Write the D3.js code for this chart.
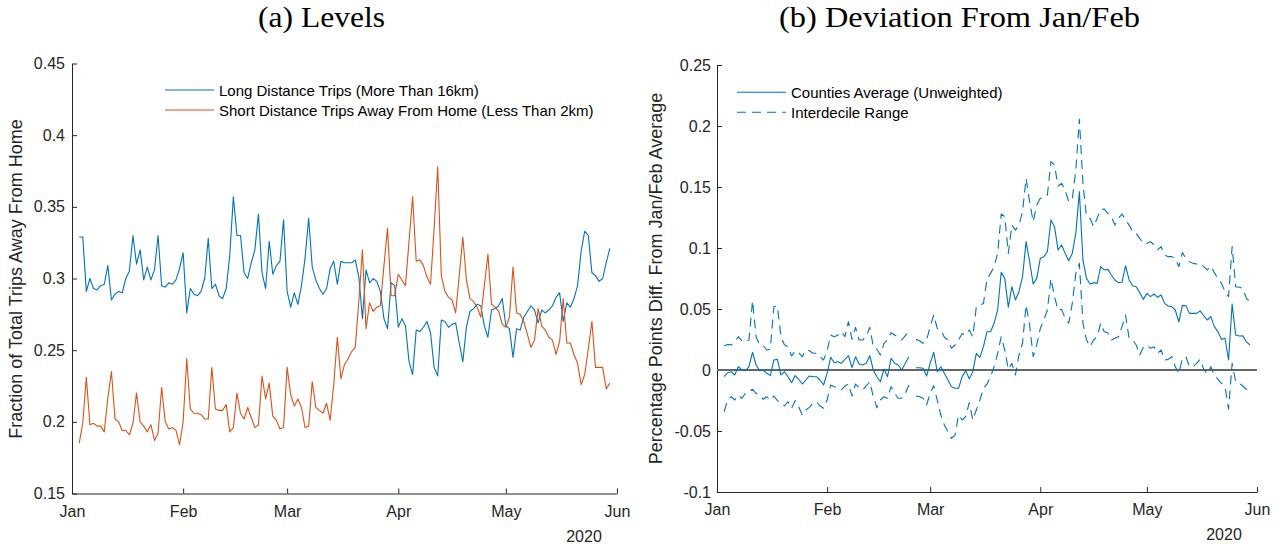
<!DOCTYPE html>
<html><head><meta charset="utf-8">
<script src="https://cdn.jsdelivr.net/npm/d3@7"></script>
<style>body{margin:0;background:#fff} svg{display:block}</style>
</head><body><svg id="c" width="1279" height="544"></svg>
<script>
// ---------- data ----------
const startDate = "2020-01-03";           // first daily observation
const monthTicks = ["Jan","Feb","Mar","Apr","May","Jun"];
const yearLabel = "2020";
const levelTicks = [0.15,0.2,0.25,0.3,0.35,0.4,0.45];
const devTicks = [-0.1,-0.05,0,0.05,0.1,0.15,0.2,0.25];

const longTrips = [
0.329,0.329,0.291,0.300,0.293,0.292,0.295,0.296,0.309,0.285,
0.289,0.291,0.290,0.300,0.305,0.330,0.310,0.320,0.299,0.308,
0.299,0.306,0.330,0.295,0.294,0.297,0.296,0.299,0.307,0.318,
0.276,0.293,0.289,0.288,0.291,0.300,0.328,0.293,0.296,0.288,
0.286,0.293,0.316,0.357,0.330,0.330,0.304,0.300,0.311,0.320,
0.345,0.304,0.293,0.326,0.303,0.309,0.312,0.341,0.291,0.280,
0.290,0.282,0.295,0.314,0.342,0.308,0.299,0.293,0.289,0.293,
0.307,0.312,0.296,0.312,0.311,
0.311,0.311,0.313,0.301,0.272,0.306,0.297,0.300,0.298,0.291,
0.272,0.265,0.297,0.295,0.266,0.272,0.267,0.242,0.233,0.264,
0.263,0.266,0.270,0.262,0.238,0.232,0.271,0.270,0.266,0.268,
0.269,0.255,0.242,0.266,0.277,0.279,0.282,0.281,0.267,0.259,
0.278,0.279,0.281,0.286,0.267,0.265,0.245,0.265,0.264,0.273,
0.277,0.281,0.278,0.269,0.278,0.276,0.278,0.281,0.287,0.290,
0.270,0.283,0.280,0.286,0.295,0.319,0.333,0.330,0.304,0.302,
0.298,0.300,0.311,0.321];

const shortTrips = [
0.185,0.199,0.231,0.198,0.199,0.197,0.197,0.193,0.217,0.235,
0.202,0.200,0.194,0.194,0.191,0.199,0.220,0.200,0.197,0.193,
0.198,0.187,0.192,0.224,0.200,0.195,0.196,0.194,0.184,0.200,
0.244,0.209,0.206,0.206,0.205,0.202,0.202,0.238,0.209,0.208,
0.208,0.212,0.193,0.196,0.220,0.206,0.202,0.210,0.203,0.196,
0.198,0.232,0.216,0.227,0.204,0.201,0.195,0.196,0.238,0.219,
0.211,0.216,0.210,0.196,0.197,0.228,0.210,0.208,0.206,0.213,
0.201,0.226,0.259,0.230,0.240,
0.244,0.249,0.252,0.284,0.320,0.265,0.283,0.277,0.280,0.281,
0.309,0.335,0.288,0.288,0.303,0.299,0.295,0.326,0.357,0.312,
0.313,0.309,0.301,0.296,0.335,0.378,0.302,0.291,0.287,0.285,
0.276,0.302,0.329,0.299,0.286,0.284,0.280,0.273,0.295,0.317,
0.282,0.280,0.277,0.268,0.266,0.273,0.308,0.276,0.275,0.270,
0.261,0.252,0.257,0.279,0.267,0.264,0.259,0.257,0.247,0.256,
0.286,0.255,0.255,0.247,0.241,0.226,0.233,0.251,0.270,0.238,
0.238,0.238,0.223,0.227];

const countyAvg = [
-0.0055,-0.0022,-0.0014,-0.0041,0.0027,0.0000,-0.0005,0.0027,0.0145,0.0041,
-0.0005,0.0000,-0.0027,-0.0046,0.0082,0.0087,-0.0041,-0.0014,-0.0055,-0.0104,
-0.0046,-0.0076,-0.0115,-0.0082,-0.0049,-0.0055,-0.0055,-0.0082,-0.0123,-0.0027,
0.0104,0.0060,0.0068,0.0055,0.0087,0.0117,0.0019,0.0109,0.0049,0.0041,
0.0055,0.0117,0.0000,-0.0055,-0.0096,0.0008,-0.0055,0.0096,0.0055,0.0041,
0.0000,0.0055,0.0109,null,0.0019,0.0019,0.0014,-0.0049,0.0055,0.0145,
-0.0014,0.0027,-0.0027,-0.0082,-0.0137,-0.0150,-0.0150,-0.0055,-0.0005,-0.0071,
-0.0014,0.0137,0.0104,0.0191,0.0314,0.0314,
0.0383,0.0492,0.0801,0.0751,0.0514,0.0683,0.0574,0.0642,0.0765,0.1052,
0.0888,0.0705,0.0751,0.0915,0.0929,0.0970,0.1229,0.1175,0.0984,0.1025,
0.0956,0.0896,0.0956,0.1120,0.1462,0.0902,0.0751,0.0705,0.0716,0.0710,
0.0847,0.0820,0.0825,0.0779,0.0738,0.0716,0.0719,0.0855,0.0738,0.0691,
0.0683,0.0634,0.0579,0.0628,0.0601,0.0623,0.0596,0.0615,0.0546,0.0525,
0.0519,0.0492,0.0393,0.0530,0.0527,0.0464,0.0464,0.0464,0.0484,0.0445,
0.0410,0.0437,0.0355,0.0314,0.0251,0.0260,0.0082,0.0540,0.0287,0.0279,
0.0281,0.0232,0.0205];

const decileHigh = [
0.0197,0.0210,0.0205,0.0232,0.0273,0.0238,0.0232,0.0246,0.0568,0.0273,
0.0205,0.0200,0.0164,0.0170,0.0519,0.0525,0.0273,0.0205,0.0191,0.0115,
0.0158,0.0142,0.0109,0.0164,0.0158,0.0137,0.0137,0.0109,0.0082,0.0158,
0.0287,0.0273,0.0284,0.0314,0.0273,0.0396,0.0251,0.0350,0.0246,0.0246,
0.0273,0.0350,0.0191,0.0170,0.0123,0.0219,0.0246,0.0306,0.0287,0.0268,
0.0246,0.0281,0.0314,null,0.0251,0.0240,0.0219,0.0246,0.0355,0.0451,
0.0341,0.0328,0.0268,0.0246,0.0178,0.0205,0.0246,0.0300,0.0287,0.0328,
0.0273,0.0519,0.0533,0.0546,0.0746,0.0792,
0.0847,0.0956,0.1279,0.1257,0.0956,0.1188,0.1147,0.1188,0.1298,0.1571,
0.1380,0.1216,0.1352,0.1407,0.1415,0.1434,0.1708,0.1680,0.1508,0.1530,
0.1475,0.1380,0.1399,0.1639,0.2055,0.1530,0.1257,0.1243,0.1175,0.1243,
0.1317,0.1320,0.1284,0.1257,0.1188,0.1243,0.1279,0.1229,0.1188,0.1134,
0.1120,0.1079,0.1038,0.1038,0.1052,0.1025,0.0984,0.1011,0.0943,0.0929,
0.0929,0.0915,0.0847,0.0962,0.0915,0.0888,0.0874,0.0869,0.0874,0.0847,
0.0820,0.0852,0.0798,0.0751,0.0710,0.0642,0.0601,0.1011,0.0683,0.0678,
0.0669,0.0587,0.0560];

const decileLow = [
-0.0342,-0.0246,-0.0219,-0.0246,-0.0205,-0.0232,-0.0191,-0.0178,-0.0158,-0.0191,
-0.0205,-0.0240,-0.0219,-0.0246,-0.0213,-0.0251,-0.0273,-0.0295,-0.0260,-0.0314,
-0.0251,-0.0300,-0.0369,-0.0328,-0.0306,-0.0273,-0.0260,-0.0295,-0.0314,-0.0246,
-0.0123,-0.0137,-0.0142,-0.0164,-0.0131,-0.0115,-0.0213,-0.0115,-0.0142,-0.0164,
-0.0131,-0.0096,-0.0219,-0.0309,-0.0246,-0.0219,-0.0232,-0.0137,-0.0191,-0.0232,
-0.0232,-0.0191,-0.0123,null,-0.0213,-0.0219,-0.0232,-0.0287,-0.0191,-0.0128,
-0.0246,-0.0369,-0.0451,-0.0505,-0.0560,-0.0533,-0.0369,-0.0410,-0.0382,-0.0268,
-0.0410,-0.0328,-0.0246,-0.0150,-0.0115,-0.0055,
0.0027,0.0137,0.0273,0.0164,0.0005,0.0055,-0.0041,0.0123,0.0219,0.0533,
0.0369,0.0109,0.0205,0.0341,0.0410,0.0492,0.0751,0.0601,0.0492,0.0497,
0.0424,0.0383,0.0546,0.0792,0.0874,0.0383,0.0246,0.0191,0.0246,0.0273,
0.0383,0.0314,0.0306,0.0246,0.0260,0.0273,0.0355,0.0451,0.0260,0.0246,
0.0205,0.0123,0.0186,0.0205,0.0178,0.0191,0.0137,0.0164,0.0082,0.0087,
0.0109,0.0027,-0.0027,0.0096,0.0109,0.0027,0.0027,0.0055,0.0087,0.0005,
-0.0027,0.0027,-0.0041,-0.0076,-0.0109,-0.0137,-0.0320,0.0055,-0.0096,-0.0109,
-0.0131,-0.0158,-0.0164];

// ---------- drawing ----------
const BLUE = "#0072BD", ORANGE = "#D95319", INK = "#262626";
const SANS = "'Liberation Sans', Arial, Helvetica, sans-serif";
const SERIF = "'Liberation Serif', 'Times New Roman', serif";
const DASH = "9,6";

const svg = d3.select("#c");
const d0 = d3.timeParse("%Y-%m-%d")(startDate);
const dates = longTrips.map((_, i) => d3.timeDay.offset(d0, i));
const xDomain = [new Date(2020,0,1), new Date(2020,5,1)];
const monthDates = d3.timeMonth.range(new Date(2020,0,1), new Date(2020,5,2));

function panel(cfg) {
  const x = d3.scaleTime().domain(xDomain).range(cfg.xr);
  const y = d3.scaleLinear().domain(cfg.yd).range(cfg.yr);
  const g = svg.append("g");

  // axes
  const ax = g.append("g").attr("transform", `translate(0,${cfg.yr[0]})`)
    .call(d3.axisBottom(x).tickValues(monthDates).tickFormat((d,i)=>monthTicks[i])
      .tickSizeInner(-5).tickSizeOuter(0).tickPadding(12));
  const ay = g.append("g").attr("transform", `translate(${cfg.xr[0]},0)`)
    .call(d3.axisLeft(y).tickValues(cfg.ticks).tickFormat(d=>String(d))
      .tickSizeInner(-5).tickSizeOuter(0).tickPadding(cfg.ypad));
  [ax, ay].forEach(a => {
    a.selectAll("path.domain").attr("stroke", INK).attr("stroke-width", 1);
    a.selectAll(".tick line").attr("stroke", INK);
    a.selectAll("text").attr("fill", INK).style("font-family", SANS).style("font-size", "16px");
  });

  g.append("text").attr("x", cfg.yearX).attr("y", cfg.yearY).attr("text-anchor","middle")
    .attr("fill", INK).style("font-family", SANS).style("font-size","16px").text(yearLabel);

  g.append("text").attr("transform", `translate(${cfg.labX},${cfg.labY}) rotate(-90)`)
    .attr("text-anchor","middle").attr("fill", INK)
    .style("font-family", SANS).style("font-size","18px").text(cfg.ylabel);

  g.append("text").attr("x", cfg.titleX).attr("y", 27).attr("text-anchor","middle")
    .attr("fill","#000").style("font-family", SERIF).style("font-size","29px")
    .attr("textLength", cfg.titleW).attr("lengthAdjust","spacingAndGlyphs").text(cfg.title);

  if (cfg.zero) {
    g.append("line").attr("x1", cfg.xr[0]).attr("x2", cfg.xr[1])
      .attr("y1", y(0)).attr("y2", y(0)).attr("stroke", "#666").attr("stroke-width", 2);
  }

  const line = d3.line().defined(d => d[1] != null)
    .x(d => x(d[0])).y(d => y(d[1]));
  cfg.series.forEach(s => {
    g.append("path").datum(s.values.map((v,i)=>[dates[i], v]))
      .attr("d", line).attr("fill","none").attr("stroke", s.color)
      .attr("stroke-width", 1.1).attr("stroke-linejoin","round")
      .attr("stroke-dasharray", s.dash || null);
  });

  // legend
  cfg.legend.forEach((l, i) => {
    const ly = cfg.legY + i * 20;
    g.append("line").attr("x1", cfg.legX).attr("x2", cfg.legX + 49)
      .attr("y1", ly).attr("y2", ly).attr("stroke", l.color).attr("stroke-width", 1.1)
      .attr("stroke-dasharray", l.dash || null);
    g.append("text").attr("x", cfg.legX + 54).attr("y", ly + 5.5).attr("fill","#000")
      .style("font-family", SANS).style("font-size","15px").text(l.text);
  });
}

panel({
  xr: [72, 617], yr: [493.5, 63.5], yd: [0.15, 0.45], ticks: levelTicks, ypad: 7,
  yearX: 584, yearY: 541.5, labX: 22, labY: 279,
  ylabel: "Fraction of Total Trips Away From Home",
  title: "(a) Levels", titleX: 321.5, titleW: 127,
  series: [{values: longTrips, color: BLUE}, {values: shortTrips, color: ORANGE}],
  legX: 165, legY: 90,
  legend: [{text: "Long Distance Trips (More Than 16km)", color: BLUE},
           {text: "Short Distance Trips Away From Home (Less Than 2km)", color: ORANGE}]
});

panel({
  xr: [717, 1257], yr: [492, 65], yd: [-0.1, 0.25], ticks: devTicks, ypad: 6,
  yearX: 1224, yearY: 539.5, labX: 662, labY: 278.5,
  ylabel: "Percentage Points Diff. From Jan/Feb Average",
  title: "(b) Deviation From Jan/Feb", titleX: 959.5, titleW: 361, zero: true,
  series: [{values: countyAvg, color: BLUE},
           {values: decileHigh, color: BLUE, dash: DASH},
           {values: decileLow, color: BLUE, dash: DASH}],
  legX: 737, legY: 92.3,
  legend: [{text: "Counties Average (Unweighted)", color: BLUE},
           {text: "Interdecile Range", color: BLUE, dash: DASH}]
});
</script>
</body></html>
